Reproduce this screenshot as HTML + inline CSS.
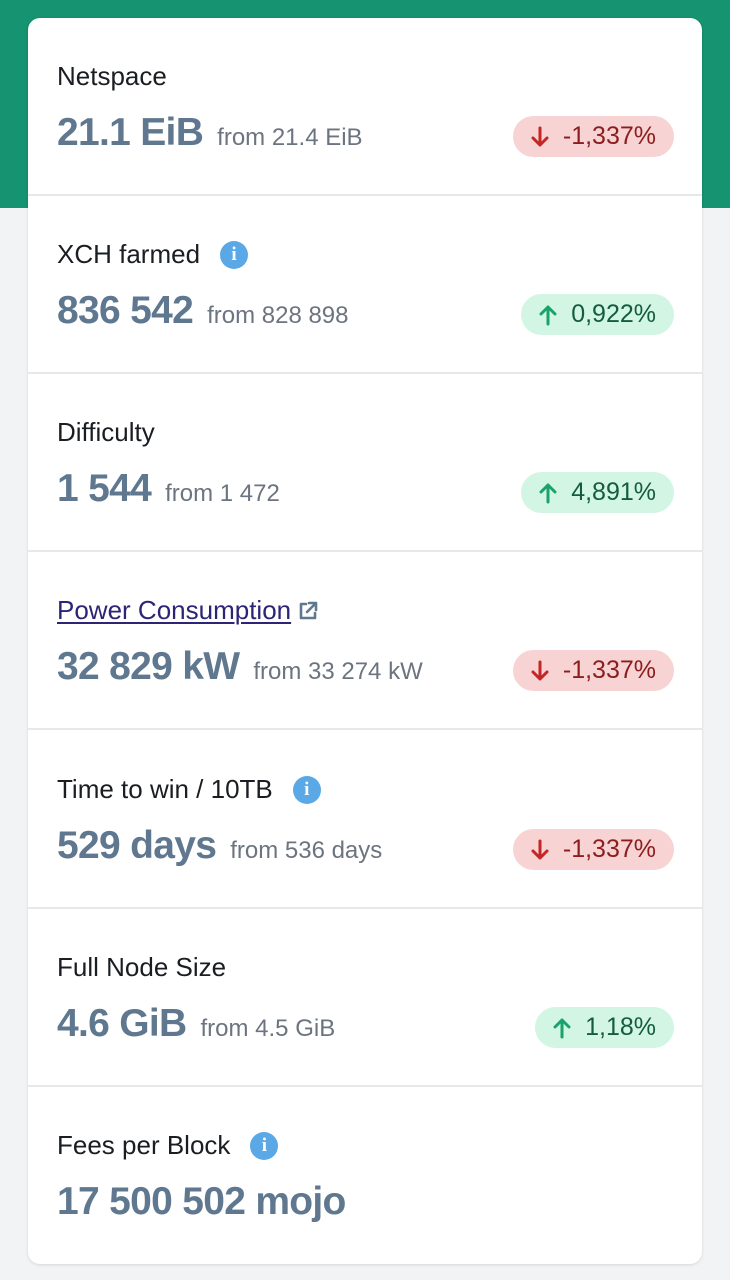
<!DOCTYPE html>
<html><head><meta charset="utf-8"><style>
*{margin:0;padding:0;box-sizing:border-box}
body{width:730px;height:1280px;background:#f1f3f5;font-family:"Liberation Sans",sans-serif;position:relative;overflow:hidden}
.hdr{position:absolute;left:0;top:0;width:730px;height:208px;background:#169371}
.card{position:absolute;left:28px;top:18px;width:674px;height:1246px;background:#fff;border-radius:12px;box-shadow:0 1px 3px rgba(0,0,0,.12)}
.row{position:absolute;left:0;width:674px;height:178px;border-bottom:2px solid #e6e8eb}
.row:last-child{border-bottom:none}
.lbl{position:absolute;left:29px;top:43px;font-size:26px;color:#1a1d21;white-space:nowrap;display:flex;align-items:center}
.lbl a{color:#2c2575;text-decoration:underline;text-underline-offset:3px;text-decoration-thickness:1.5px}
.info{display:inline-block;width:28px;height:28px;border-radius:50%;background:#5aa9e6;color:#fff;font-weight:bold;font-size:19px;text-align:center;line-height:28px;margin-left:20px;font-family:"Liberation Serif",serif}
.val{position:absolute;left:29px;top:93px;white-space:nowrap;color:#5f7890}
.big{font-size:39px;font-weight:bold;letter-spacing:-0.7px}
.from{font-size:24px;color:#6c7480;margin-left:14px}
.pill{position:absolute;right:28px;top:98px;height:41px;border-radius:21px;font-size:25px;line-height:41px;padding:0 18px 0 18px;white-space:nowrap;display:flex;align-items:center}
.pill svg{margin-right:14px}
.down{background:#f7d3d3;color:#8c1d1d}
.up{background:#d3f5e4;color:#145c3f}
</style></head><body>
<div class="hdr"></div>
<div class="card">
 <div class="row" style="top:0">
  <div class="lbl">Netspace</div>
  <div class="val"><span class="big">21.1 EiB</span><span class="from">from 21.4 EiB</span></div>
  <div class="pill down"><svg width="18" height="22" viewBox="0 0 18 22"><path d="M9 2V19M2 12L9 19L16 12" stroke="#c42525" stroke-width="3" fill="none" stroke-linecap="round" stroke-linejoin="round"/></svg>-1,337%</div>
 </div>
 <div class="row" style="top:178px">
  <div class="lbl">XCH farmed<span class="info">i</span></div>
  <div class="val"><span class="big">836 542</span><span class="from">from 828 898</span></div>
  <div class="pill up"><svg width="18" height="22" viewBox="0 0 18 22"><path d="M9 20V3M2 10L9 3L16 10" stroke="#18a36a" stroke-width="3" fill="none" stroke-linecap="round" stroke-linejoin="round"/></svg>0,922%</div>
 </div>
 <div class="row" style="top:356px">
  <div class="lbl">Difficulty</div>
  <div class="val"><span class="big">1 544</span><span class="from">from 1 472</span></div>
  <div class="pill up"><svg width="18" height="22" viewBox="0 0 18 22"><path d="M9 20V3M2 10L9 3L16 10" stroke="#18a36a" stroke-width="3" fill="none" stroke-linecap="round" stroke-linejoin="round"/></svg>4,891%</div>
 </div>
 <div class="row" style="top:534px">
  <div class="lbl"><a>Power Consumption</a><svg style="margin-left:6px" width="22" height="22" viewBox="0 0 22 22"><path d="M9 4H4V18H18V13M12 3H19V10M19 3L10 12" stroke="#5f7890" stroke-width="2.6" fill="none" stroke-linecap="round" stroke-linejoin="round"/></svg></div>
  <div class="val"><span class="big">32 829 kW</span><span class="from">from 33 274 kW</span></div>
  <div class="pill down"><svg width="18" height="22" viewBox="0 0 18 22"><path d="M9 2V19M2 12L9 19L16 12" stroke="#c42525" stroke-width="3" fill="none" stroke-linecap="round" stroke-linejoin="round"/></svg>-1,337%</div>
 </div>
 <div class="row" style="top:713px">
  <div class="lbl">Time to win / 10TB<span class="info">i</span></div>
  <div class="val"><span class="big">529 days</span><span class="from">from 536 days</span></div>
  <div class="pill down"><svg width="18" height="22" viewBox="0 0 18 22"><path d="M9 2V19M2 12L9 19L16 12" stroke="#c42525" stroke-width="3" fill="none" stroke-linecap="round" stroke-linejoin="round"/></svg>-1,337%</div>
 </div>
 <div class="row" style="top:891px">
  <div class="lbl">Full Node Size</div>
  <div class="val"><span class="big">4.6 GiB</span><span class="from">from 4.5 GiB</span></div>
  <div class="pill up"><svg width="18" height="22" viewBox="0 0 18 22"><path d="M9 20V3M2 10L9 3L16 10" stroke="#18a36a" stroke-width="3" fill="none" stroke-linecap="round" stroke-linejoin="round"/></svg>1,18%</div>
 </div>
 <div class="row" style="top:1069px">
  <div class="lbl">Fees per Block<span class="info">i</span></div>
  <div class="val"><span class="big">17 500 502 mojo</span></div>
 </div>
</div>
</body></html>
